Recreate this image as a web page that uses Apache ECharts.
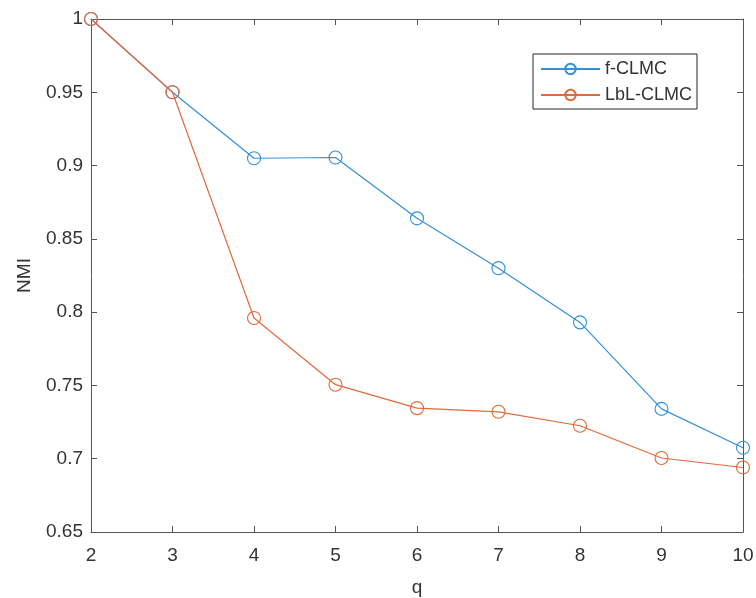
<!DOCTYPE html>
<html>
<head>
<meta charset="utf-8">
<script src="https://cdn.jsdelivr.net/npm/echarts@6/dist/echarts.min.js"></script>
<style>
  html, body { margin: 0; padding: 0; background: #fff; }
  #chart { width: 756px; height: 598px; }
</style>
</head>
<body>
<div id="chart"></div>
<script>
const qValues = [2, 3, 4, 5, 6, 7, 8, 9, 10]
const fCLMC = [1.0, 0.95, 0.905, 0.9055, 0.864, 0.830, 0.793, 0.734, 0.7075]
const lblCLMC = [1.0, 0.95, 0.796, 0.7505, 0.7345, 0.732, 0.7225, 0.7005, 0.694]
const seriesNames = ['f-CLMC', 'LbL-CLMC']
const colors = ['#3590d5', '#e06a3a']

const chart = echarts.init(document.getElementById('chart'))

const pairs = (ys) => qValues.map((q, i) => [q, ys[i]])
const font = 'Liberation Sans, Arial, sans-serif'
const axisColor = '#555555'
const textColor = '#333333'

const baseX = {
  type: 'value', min: 2, max: 10, interval: 1,
  axisLine: { show: true, lineStyle: { color: axisColor, width: 1 } },
  axisTick: { show: true, inside: true, length: 6, lineStyle: { color: axisColor } },
  splitLine: { show: false },
}
const baseY = {
  type: 'value', min: 0.65, max: 1, interval: 0.05,
  axisLine: { show: true, lineStyle: { color: axisColor, width: 1 } },
  axisTick: { show: true, inside: true, length: 6, lineStyle: { color: axisColor } },
  splitLine: { show: false },
}

// 空心圆标记，线穿过圆心
const makeSeries = (name, ys, color, z) => ({
  name, type: 'line', data: pairs(ys),
  symbol: 'circle', symbolSize: 13,
  lineStyle: { width: 1.2, color },
  itemStyle: { color: 'none', borderColor: color, borderWidth: 1.1 },
  emphasis: { disabled: true },
  z,
})

const options = {
  animation: false,
  color: colors,
  grid: { left: 91, right: 13, top: 19, bottom: 66, containLabel: false, outerBoundsMode: 'none' },
  legend: {
    orient: 'vertical',
    left: 533, top: 54,
    padding: [6, 5, 5, 7],
    itemGap: 8,
    itemWidth: 59, itemHeight: 13,
    borderColor: '#262626', borderWidth: 1,
    backgroundColor: '#fff',
    textStyle: { fontFamily: font, fontSize: 18, color: textColor },
    data: seriesNames,
  },
  xAxis: [
    Object.assign({}, baseX, {
      position: 'bottom',
      name: 'q', nameLocation: 'middle', nameGap: 46,
      nameTextStyle: { fontFamily: font, fontSize: 19, color: textColor },
      axisLabel: { fontFamily: font, fontSize: 19, color: textColor, margin: 14 },
    }),
    Object.assign({}, baseX, { position: 'top', axisLabel: { show: false } }),
  ],
  yAxis: [
    Object.assign({}, baseY, {
      position: 'left',
      name: 'NMI', nameLocation: 'middle', nameGap: 57,
      nameTextStyle: { fontFamily: font, fontSize: 19, color: textColor },
      axisLabel: { fontFamily: font, fontSize: 19, color: textColor, margin: 8 },
    }),
    Object.assign({}, baseY, { position: 'right', axisLabel: { show: false } }),
  ],
  series: [
    makeSeries(seriesNames[0], fCLMC, colors[0], 2),
    makeSeries(seriesNames[1], lblCLMC, colors[1], 3),
  ],
}
chart.setOption(options, true)
</script>
</body>
</html>
